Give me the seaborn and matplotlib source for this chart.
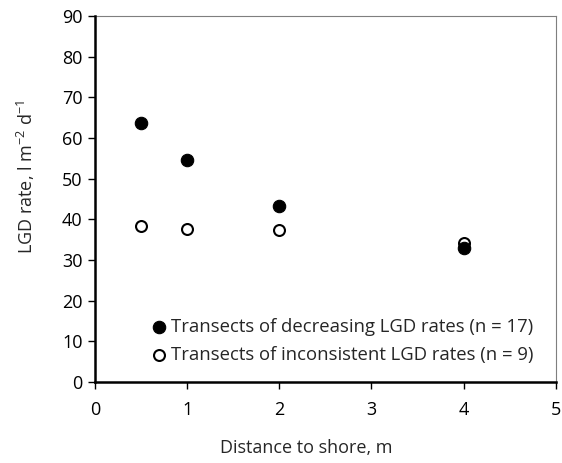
import matplotlib
matplotlib.use("Agg")
import matplotlib.pyplot as plt
import seaborn as sns
import pandas as pd

distance = [0.5, 1, 2, 4]
decreasing = [63.6, 54.7, 43.3, 33.0]
inconsistent = [38.4, 37.7, 37.3, 34.2]
label_dec = "Transects of decreasing LGD rates (n = 17)"
label_inc = "Transects of inconsistent LGD rates (n = 9)"

sns.set_theme(style="ticks")
plt.rcParams["font.family"] = ["Open Sans", "DejaVu Sans"]
plt.rcParams["mathtext.default"] = "regular"

FS = 13

fig = plt.figure(figsize=(5.62, 4.63), dpi=100)
ax = fig.add_axes([0.169, 0.175, 0.820, 0.790])

df_dec = pd.DataFrame({"x": distance, "y": decreasing})
df_inc = pd.DataFrame({"x": distance, "y": inconsistent})

sns.scatterplot(data=df_dec, x="x", y="y", ax=ax, color="black", edgecolor="black",
                s=80, linewidth=0.8, label=label_dec, zorder=4)
sns.scatterplot(data=df_inc, x="x", y="y", ax=ax, facecolor="white", edgecolor="black",
                s=62, linewidth=1.5, label=label_inc, zorder=3)

ax.set_xlim(0, 5)
ax.set_ylim(0, 90)
ax.set_xticks(range(0, 6))
ax.set_yticks(range(0, 91, 10))
ax.tick_params(axis="both", direction="out", length=5, width=1, labelsize=FS,
               colors="black", pad=4)
ax.tick_params(axis="x", pad=9)

for side in ["left", "bottom"]:
    ax.spines[side].set_linewidth(1.8)
    ax.spines[side].set_color("black")
    ax.spines[side].set_zorder(5)
for side in ["top", "right"]:
    ax.spines[side].set_visible(True)
    ax.spines[side].set_linewidth(0.8)
    ax.spines[side].set_color("#7f7f7f")

ax.set_xlabel("Distance to shore, m", fontsize=FS, labelpad=14, x=0.458)
ax.set_ylabel(r"LGD rate, l m$^{-2}$ d$^{-1}$", fontsize=FS, labelpad=18, y=0.56)

leg = ax.legend(loc="lower right", frameon=False, fontsize=13.3, handletextpad=0.15,
                handlelength=1.0, borderaxespad=0.3, labelspacing=0.55,
                bbox_to_anchor=(0.980, 0.014))

fig.savefig("out.png", dpi=100, facecolor="white")
